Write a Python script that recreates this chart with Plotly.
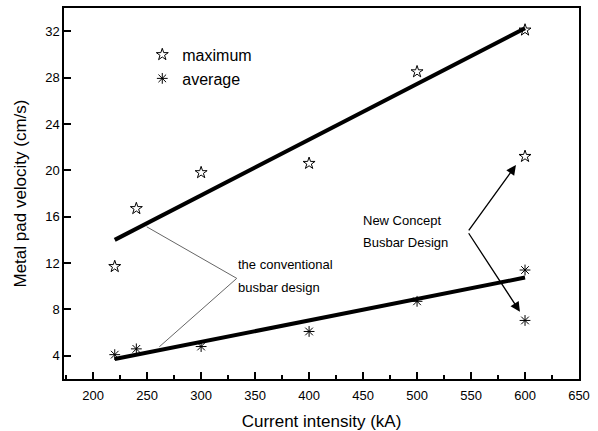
import plotly.graph_objects as go

# Data
current_max = [220, 240, 300, 400, 500, 600, 600]
velocity_max = [11.7, 16.7, 19.8, 20.6, 28.5, 32.1, 21.2]
current_avg = [220, 240, 300, 400, 500, 600, 600]
velocity_avg = [4.1, 4.6, 4.8, 6.1, 8.7, 11.4, 7.05]

# fitted trend lines (endpoints)
fit_x = [220, 600]
fit_max = [14.0, 32.25]
fit_avg = [3.72, 10.75]

x_ticks = [200, 250, 300, 350, 400, 450, 500, 550, 600, 650]
y_ticks = [4, 8, 12, 16, 20, 24, 28, 32]

FONT = "Liberation Sans"

fig = go.Figure()
fig.add_trace(go.Scatter(x=fit_x, y=fit_max, mode="lines",
                         line=dict(color="black", width=4), showlegend=False))
fig.add_trace(go.Scatter(x=fit_x, y=fit_avg, mode="lines",
                         line=dict(color="black", width=4), showlegend=False))
fig.add_trace(go.Scatter(x=current_max, y=velocity_max, mode="markers", name="maximum",
                         marker=dict(symbol="star-open", size=9, color="black",
                                     line=dict(width=1, color="black"))))
fig.add_trace(go.Scatter(x=current_avg, y=velocity_avg, mode="markers", name="average",
                         marker=dict(symbol="asterisk-open", size=9, color="black",
                                     line=dict(width=1, color="black"))))

# gray leader lines for "the conventional busbar design"
fig.add_shape(type="line", x0=249.6, y0=15.13, x1=333, y1=10.68,
              line=dict(color="#666666", width=1))
fig.add_shape(type="line", x0=333, y0=10.68, x1=261.3, y1=4.78,
              line=dict(color="#666666", width=1))

# arrows for "New Concept Busbar Design"
for tx, ty in [(591.6, 20.45), (595.3, 7.8)]:
    fig.add_annotation(x=tx, y=ty, ax=546.9, ay=14.7, xref="x", yref="y",
                       axref="x", ayref="y", text="", showarrow=True,
                       arrowhead=2, arrowsize=1.5, arrowwidth=1.3, arrowcolor="black")

texts = [
    ("the conventional", 334, 11.9),
    ("busbar design", 334, 9.93),
    ("New Concept", 449.7, 15.7),
    ("Busbar Design", 449.7, 13.75),
]
for t, x, y in texts:
    fig.add_annotation(x=x, y=y, text=t, showarrow=False, xanchor="left",
                       yanchor="middle", xshift=-2,
                       font=dict(family=FONT, size=13, color="black"))

axis_common = dict(showline=True, linecolor="black", linewidth=1.5, mirror=True,
                   ticks="inside", tickcolor="black", tickwidth=1.5,
                   showgrid=False, zeroline=False, automargin=False,
                   tickfont=dict(family=FONT, size=13, color="black"))

fig.update_xaxes(range=[173, 650], tickvals=x_ticks, ticklen=7, ticklabelstandoff=4,
                 minor=dict(dtick=25, tick0=0, ticks="inside", ticklen=4,
                            tickcolor="black", tickwidth=1.5),
                 title=dict(text="Current intensity (kA)",
                            font=dict(family=FONT, size=17, color="black"), standoff=16),
                 **axis_common)
fig.update_yaxes(range=[2, 34], tickvals=y_ticks, ticklen=7,
                 title=dict(text="Metal pad velocity (cm/s)",
                            font=dict(family=FONT, size=17, color="black"), standoff=14),
                 **axis_common)

fig.update_layout(
    width=598, height=431,
    margin=dict(l=64, r=19, t=8, b=52),
    paper_bgcolor="white", plot_bgcolor="white",
    font=dict(family=FONT, color="black"),
    legend=dict(x=0.152, y=0.92, xanchor="left", yanchor="top",
                bgcolor="rgba(0,0,0,0)", font=dict(family=FONT, size=16, color="black"),
                tracegroupgap=0),
)

fig.write_html("out.html", config={"displayModeBar": False},
               post_script="document.body.style.margin='0px';")
